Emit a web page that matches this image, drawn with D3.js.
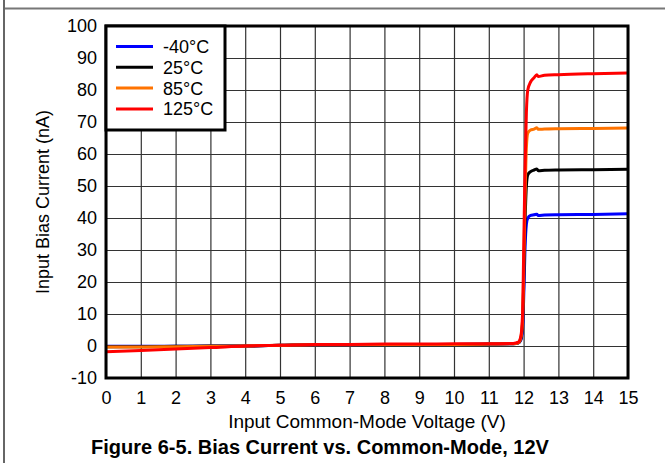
<!DOCTYPE html>
<html>
<head>
<meta charset="utf-8">
<script src="https://cdn.jsdelivr.net/npm/d3@7"></script>
<style>
  body { margin: 0; background: #fff; }
  svg text { font-family: "Liberation Sans", Arial, sans-serif; fill: #000; }
</style>
</head>
<body>
<div id="graphContainer"></div>
<script>
// input common-mode voltage (V), shared by every curve
var voltage = [0, 1, 2, 3, 4, 5, 6, 7, 8, 9, 10, 11, 11.7, 11.85, 11.92, 11.97, 12.0, 12.04, 12.08, 12.12, 12.2, 12.3, 12.38, 12.42, 12.6, 13, 14, 15];

// input bias current (nA), one list per temperature
var biasM40 = [-0.1, -0.1, -0.1, 0, 0, 0.2, 0.4, 0.4, 0.5, 0.5, 0.5, 0.6, 0.7, 0.9, 1.8, 5, 14, 30, 38, 40, 40.8, 41, 41.2, 40.8, 40.9, 41, 41.1, 41.3];
var bias25 = [-0.2, -0.2, -0.1, 0, 0, 0.2, 0.4, 0.4, 0.5, 0.5, 0.5, 0.6, 0.7, 1, 2.2, 7, 18, 38, 50, 53.5, 54.5, 55, 55.3, 54.8, 54.9, 55, 55.1, 55.2];
var bias85 = [-0.3, -0.3, -0.2, -0.1, 0, 0.2, 0.4, 0.4, 0.5, 0.5, 0.5, 0.6, 0.7, 1, 2.5, 8, 22, 45, 62, 66.5, 67.5, 67.8, 68.2, 67.7, 67.8, 67.9, 68, 68.1];
var bias125 = [-1.8, -1.4, -0.9, -0.5, 0, 0.2, 0.5, 0.5, 0.6, 0.6, 0.7, 0.7, 0.8, 1.2, 3, 10, 28, 55, 73, 80, 82.5, 83.8, 84.8, 84.2, 84.6, 84.8, 85.1, 85.3];

var seriesNames = ["-40°C", "25°C", "85°C", "125°C"];
var seriesColors = ["#0000ff", "#000000", "#ff7300", "#ff0000"];
var seriesValues = [biasM40, bias25, bias85, bias125];

var xTicks = d3.range(0, 16, 1);
var yTicks = d3.range(-10, 101, 10);

var W = 665, H = 463;
var margin = { top: 26, right: 37, bottom: 85, left: 106 },
    width = W - margin.left - margin.right,
    height = H - margin.top - margin.bottom;

var svg = d3.select("#graphContainer").append("svg")
    .attr("width", W)
    .attr("height", H);

// page frame
svg.append("line").attr("x1", 4).attr("x2", W).attr("y1", 8.5).attr("y2", 8.5)
    .attr("stroke", "#777").attr("stroke-width", 2);
svg.append("line").attr("x1", 4).attr("x2", 4).attr("y1", 0).attr("y2", H)
    .attr("stroke", "#666").attr("stroke-width", 2);

var x = d3.scaleLinear().domain([0, 15]).range([0, width]);
var y = d3.scaleLinear().domain([-10, 100]).range([height, 0]);

var g = svg.append("g")
    .attr("transform", "translate(" + margin.left + "," + margin.top + ")");

// grid
var xGrid = g.append("g")
    .attr("transform", "translate(0," + height + ")")
    .call(d3.axisBottom(x).tickValues(xTicks).tickSize(-height).tickFormat(""));
xGrid.select(".domain").remove();
xGrid.selectAll("line").attr("stroke", "#333").attr("stroke-width", 1.2);

var yGrid = g.append("g")
    .call(d3.axisLeft(y).tickValues(yTicks).tickSize(-width).tickFormat(""));
yGrid.select(".domain").remove();
yGrid.selectAll("line").attr("stroke", "#333").attr("stroke-width", 1.2);

// tick labels (plain hyphen for negatives, as in the datasheet)
var plain = function(d) { return String(d); };

var xAxis = g.append("g")
    .attr("transform", "translate(0," + height + ")")
    .call(d3.axisBottom(x).tickValues(xTicks).tickSize(0).tickPadding(13).tickFormat(plain));
xAxis.select(".domain").remove();
xAxis.selectAll("text").style("font-size", "18px");

var yAxis = g.append("g")
    .call(d3.axisLeft(y).tickValues(yTicks).tickSize(0).tickPadding(9).tickFormat(plain));
yAxis.select(".domain").remove();
yAxis.selectAll("text").style("font-size", "18px");

// curves
var line = d3.line()
    .x(function(d, i) { return x(voltage[i]); })
    .y(function(d) { return y(d); })
    .curve(d3.curveMonotoneX);

seriesValues.forEach(function(vals, k) {
    g.append("path")
        .datum(vals)
        .attr("fill", "none")
        .attr("stroke", seriesColors[k])
        .attr("stroke-width", 3)
        .attr("stroke-linejoin", "round")
        .attr("d", line);
});

// plot border
g.append("rect")
    .attr("width", width).attr("height", height)
    .attr("fill", "none").attr("stroke", "#000").attr("stroke-width", 3);

// legend
var legend = g.append("g");
legend.append("rect")
    .attr("x", 0).attr("y", 0).attr("width", 119).attr("height", 104)
    .attr("fill", "#fff").attr("stroke", "#000").attr("stroke-width", 3);
seriesNames.forEach(function(name, k) {
    var ly = 20.5 + k * 20.8;
    legend.append("line")
        .attr("x1", 10).attr("x2", 47).attr("y1", ly).attr("y2", ly)
        .attr("stroke", seriesColors[k]).attr("stroke-width", 3);
    legend.append("text")
        .attr("x", 57).attr("y", ly + 6.5)
        .style("font-size", "18px")
        .text(name);
});

// axis titles
svg.append("text")
    .attr("x", margin.left + width / 2).attr("y", 428)
    .attr("text-anchor", "middle")
    .style("font-size", "19px")
    .text("Input Common-Mode Voltage (V)");

svg.append("text")
    .attr("transform", "translate(49," + (margin.top + height / 2) + ") rotate(-90)")
    .attr("text-anchor", "middle")
    .style("font-size", "18px")
    .text("Input Bias Current (nA)");

// caption
svg.append("text")
    .attr("x", 320).attr("y", 454)
    .attr("text-anchor", "middle")
    .style("font-size", "20px")
    .style("font-weight", "bold")
    .text("Figure 6-5. Bias Current vs. Common-Mode, 12V");
</script>
</body>
</html>
